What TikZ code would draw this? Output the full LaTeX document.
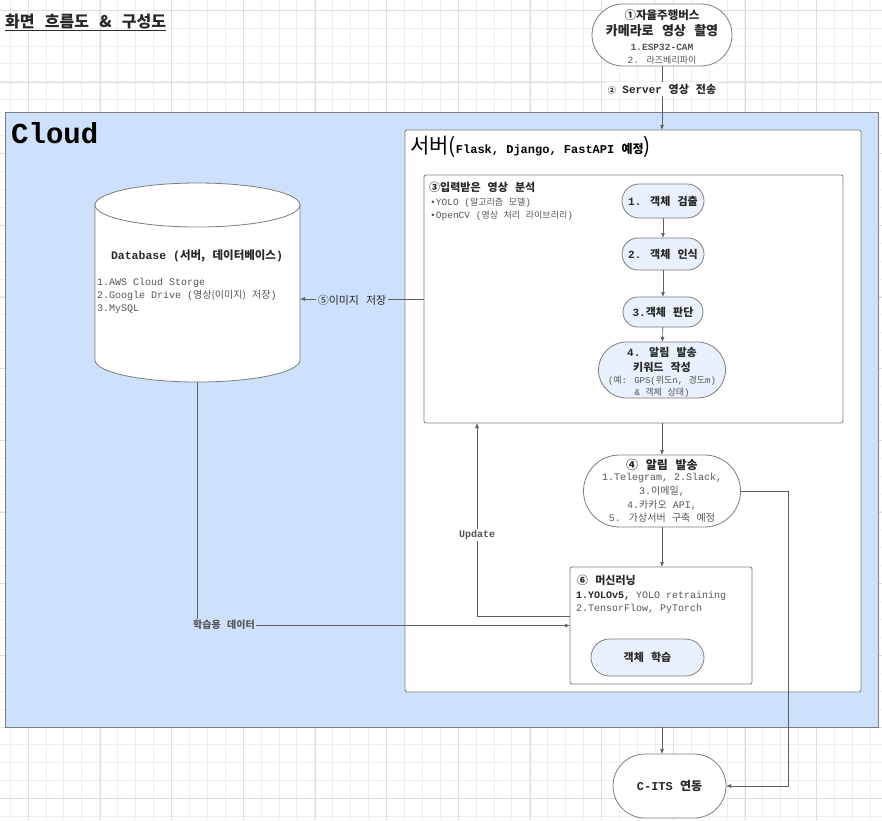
\documentclass[tikz,border=0pt]{standalone}
\usepackage{fontspec}
\setmainfont{Liberation Mono}
\newfontfamily\kr[WordSpace=2.8]{Noto Sans CJK KR}
\usetikzlibrary{arrows.meta,shapes.misc,calc}
\definecolor{cloudblue}{RGB}{206,225,252}
\definecolor{procblue}{RGB}{232,241,253}
\definecolor{gridmin}{RGB}{238,238,238}
\definecolor{gridmaj}{RGB}{222,222,222}
\definecolor{edge}{RGB}{125,125,125}
\definecolor{linec}{RGB}{95,95,95}
\definecolor{txtd}{RGB}{40,40,40}
\definecolor{txtg}{RGB}{85,85,85}
\newcommand\K[1]{{\kr #1}}
\newcommand\fs[1]{\fontsize{#1}{#1}\selectfont}
\begin{document}
\begin{tikzpicture}[x=1pt,y=-1pt,
  boxs/.style={draw=edge, line width=0.8pt, outer sep=0pt, inner sep=0pt, anchor=north west},
  pill/.style={rounded rectangle, draw=edge, line width=0.8pt, outer sep=0pt, inner sep=1pt, align=center, text=txtd},
  arr/.style={draw=linec, line width=0.7pt, -{Latex[length=5pt,width=4pt]}},
  lbl/.style={inner sep=1.5pt, text=txtd},
  tl/.style={anchor=base west, inner sep=0pt}]
\useasboundingbox (0,0) rectangle (882,820);
\fill[white] (0,0) rectangle (882,820);
% grid
\begin{scope}[shift={(10,10)}]
\draw[gridmin, line width=0.6pt, step=17.92pt] (-10,-10) grid (872,810);
\end{scope}
\begin{scope}[shift={(28.3,10.3)}]
\draw[gridmaj, line width=0.6pt, step=71.68pt] (-28.3,-10.3) grid (853.7,809.7);
\end{scope}

% title
\node[tl, text=txtd] (title) at (5,27) {\K{\bfseries\fs{16}\underline{화면 흐름도 \& 구성도}}};

% cloud
\node[boxs, fill=cloudblue, minimum width=873pt, minimum height=615pt] (cloud) at (5,112) {};
\node[tl, text=black] (cloudlbl) at (11,143) {\bfseries\fs{29}Cloud};

% bus
\node[pill, fill=white, minimum width=142pt, minimum height=62pt] (bus) at (662,35) {};
\node[lbl] (bus1) at (662,15) {\bfseries\K{\fs{11.5}①자율주행버스}};
\node[lbl] (bus2) at (662,31) {\bfseries\K{\fs{13}카메라로 영상 촬영}};
\node[lbl, text=txtg] (bus3) at (662,47) {\bfseries\fs{9.5}1.ESP32-CAM};
\node[lbl, text=txtg] (bus4) at (662,60) {\fs{9.5}2. \K{\fs{9}라즈베리파이}};

% server
\node[boxs, fill=white, rounded corners=2pt, minimum width=456pt, minimum height=562pt] (server) at (405,130) {};
\node[tl, text=black] (srvtitle) at (410,153) {\K{\fs{21}서버(}{\bfseries\fs{12}Flask, Django, FastAPI \K{예정}}\K{\fs{21})}};

\draw[arr] (bus.south) -- (bus.south |- server.north);
\node[lbl, fill=white, text=txtd] (srvlbl) at (662,89) {\bfseries\fs{11}\K{\fs{8}②} Server \K{영상 전송}};

% analysis box
\node[boxs, fill=white, rounded corners=2pt, minimum width=419pt, minimum height=248pt] (ana) at (424,175) {};
\node[tl, text=txtd] (ana1) at (429,191) {\bfseries\K{\fs{11}③입력받은 영상 분석}};
\node[tl, text=txtg] (ana2) at (430,205) {\fs{9.5}•YOLO (\K{\fs{9}알고리즘 모델})};
\node[tl, text=txtg] (ana3) at (430,218) {\fs{9.5}•OpenCV (\K{\fs{9}영상 처리 라이브러리})};

\node[pill, fill=procblue, minimum width=84pt, minimum height=34pt] (n1) at (663,201) {\bfseries\fs{11}1. \K{객체 검출}};
\node[pill, fill=procblue, minimum width=84pt, minimum height=32pt] (n2) at (663,254) {\bfseries\fs{11}2. \K{객체 인식}};
\node[pill, fill=procblue, minimum width=82pt, minimum height=30pt] (n3) at (663,312) {\bfseries\fs{11}3.\K{객체 판단}};
\node[pill, fill=procblue, minimum width=129pt, minimum height=56pt] (n4) at (662,370) {};
\node[lbl] (n4a) at (662,352) {\bfseries\fs{11}4. \K{알림 발송}};
\node[lbl] (n4b) at (662,367) {\bfseries\K{\fs{11}키워드 작성}};
\node[lbl, text=txtg] (n4c) at (662,381) {\fs{9}(\K{예}: GPS(\K{위도}n, \K{경도}m)};
\node[lbl, text=txtg] (n4d) at (662,393) {\fs{9}\& \K{객체 상태})};
\draw[arr] (n1) -- (n2);
\draw[arr] (n2) -- (n3);
\draw[arr] (n3) -- (n4);

% notify
\node[pill, fill=white, minimum width=159pt, minimum height=72pt] (notify) at (662,491) {};
\node[lbl] (nt1) at (662,465) {\bfseries\K{\fs{12}④ 알림 발송}};
\node[lbl, text=txtg] (nt2) at (662,478) {\fs{10}1.Telegram, 2.Slack,};
\node[lbl, text=txtg] (nt3) at (662,491) {\fs{10}3.\K{이메일},};
\node[lbl, text=txtg] (nt4) at (662,505) {\fs{10}4.\K{카카오} API,};
\node[lbl, text=txtg] (nt5) at (662,518) {\fs{10}5. \K{가상서버 구축 예정}};
\draw[arr] (n4 |- ana.south) -- (notify.north);

% machine learning
\node[boxs, fill=white, rounded corners=2pt, minimum width=182pt, minimum height=117pt] (ml) at (570,567) {};
\node[tl, text=txtd] (ml1) at (577,584) {\bfseries\K{\fs{11}⑥ 머신러닝}};
\node[tl, text=txtg] (ml2) at (576,598) {\fs{10}{\bfseries\color{txtd}1.YOLOv5,} YOLO retraining};
\node[tl, text=txtg] (ml3) at (576,611) {\fs{10}2.TensorFlow, PyTorch};
\node[pill, fill=procblue, minimum width=115pt, minimum height=37pt] (learn) at (647.5,657.5) {\bfseries\K{\fs{11}객체 학습}};
\draw[arr] (notify.south) -- (notify.south |- ml.north);
\draw[arr] ([yshift=9pt]ml.west) -| ($(ana.south west)+(53,0)$);
\node[lbl, fill=white, text=txtg] (updlbl) at (477,535) {\bfseries\fs{10}Update};

% database
\node[minimum width=205pt, minimum height=199pt, inner sep=0pt, outer sep=0pt] (db) at (197.5,282.5) {};
\draw[draw=edge, fill=white, line width=0.8pt] ([yshift=-22pt]db.north west) -- ([yshift=22pt]db.south west)
  arc[start angle=180, end angle=360, x radius=102.5pt, y radius=22pt]
  -- ([yshift=-22pt]db.north east)
  arc[start angle=0, end angle=180, x radius=102.5pt, y radius=22pt] -- cycle;
\draw[draw=edge, line width=0.8pt] ([yshift=-22pt]db.north west) arc[start angle=180, end angle=360, x radius=102.5pt, y radius=22pt];
\node[lbl] (dbt) at (197,256) {\bfseries\fs{11.5}Database (\K{서버, 데이터베이스})};
\node[tl, text=txtg] (db1) at (97,285) {\fs{10}1.AWS Cloud Storge};
\node[tl, text=txtg] (db2) at (97,298) {\fs{10}2.Google Drive (\K{영상(이미지) 저장})};
\node[tl, text=txtg] (db3) at (97,311) {\fs{10}3.MySQL};

\draw[arr] (ana.west) -- (ana.west -| db.east);
\node[lbl, fill=cloudblue, text=txtd] (savelbl) at (352,300) {\K{\fs{11}⑤이미지 저장}};
\draw[arr] (db.south) |- (ml.west);
\node[lbl, fill=cloudblue, text=txtg] (trainlbl) at (224,625) {\bfseries\K{\fs{10}학습용 데이터}};

% C-ITS
\node[pill, fill=white, minimum width=115pt, minimum height=64pt] (cits) at (669.5,786) {\bfseries\fs{12}C-ITS \K{연동}};
\draw[arr] (notify.east) -- ++(48,0) |- (cits.east);
\draw[arr] (notify.south |- cloud.south) -- (notify.south |- cits.north);
\end{tikzpicture}
\end{document}
